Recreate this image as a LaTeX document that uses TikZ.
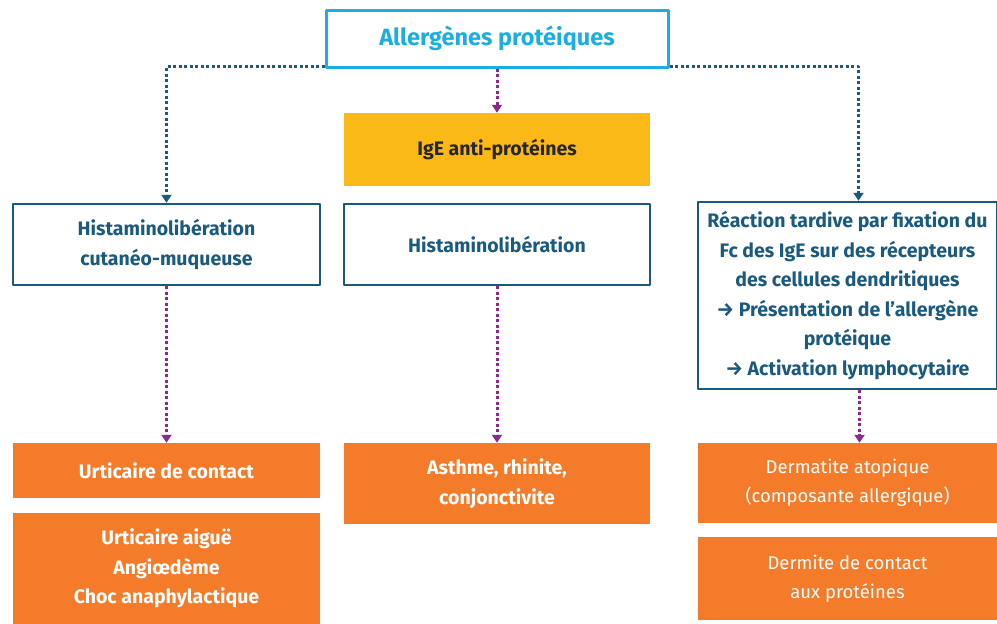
\documentclass[tikz,border=0pt]{standalone}
\usepackage{fontspec}
\setmainfont{Fira Sans}
\usetikzlibrary{arrows.meta}
\definecolor{cyanbox}{HTML}{1DAEE1}
\definecolor{navy}{HTML}{1B5A7F}
\definecolor{prune}{HTML}{8A2B8C}
\definecolor{ambre}{HTML}{FBB918}
\definecolor{orangebox}{HTML}{F47B2A}
\tikzset{
	boite/.style={inner sep=0pt, align=center, font=\fontsize{18.5}{29.5}\selectfont},
	gras/.style={font=\fontsize{19.5}{29.5}\selectfont\bfseries},
	topbox/.style={boite, draw=cyanbox, line width=3pt, text=cyanbox, font=\fontsize{23.5}{28}\selectfont\bfseries},
	igebox/.style={boite, gras, fill=ambre, text=black!85},
	hbox/.style={boite, gras, draw=navy, line width=2.5pt, text=navy},
	orbox/.style={boite, fill=orangebox, text=white},
	lienbleu/.style={draw=navy, line width=3pt, dash pattern=on 3pt off 2.5pt, -{Triangle[width=10pt,length=8pt]}},
	lienviolet/.style={lienbleu, draw=prune, fill=prune},
}
\begin{document}
\begin{tikzpicture}[x=1pt,y=-1pt,line join=round]
	\useasboundingbox (0,0) rectangle (997,624);
	\node[topbox, minimum width=342, minimum height=57] (allerg) at (497,38.5) {Allergènes protéiques};
	\node[igebox, minimum width=306, minimum height=73] (ige) at (497,149.5) {IgE anti-protéines};
	\node[hbox, minimum width=307, minimum height=81] (hgauche) at (166.5,244.5) {Histaminolibération\\cutanéo-muqueuse};
	\node[hbox, minimum width=306, minimum height=81] (hmilieu) at (497,244.5) {Histaminolibération};
	\node[hbox, minimum width=299, minimum height=187] (hdroite) at (847.5,295.5) {Réaction tardive par fixation du\\Fc des IgE sur des récepteurs\\des cellules dendritiques\\→ Présentation de l'allergène\\protéique\\→ Activation lymphocytaire};
	% effets cliniques
	\node[orbox, gras, minimum width=307, minimum height=55] (urtc) at (166.5,470.5) {Urticaire de contact};
	\node[orbox, gras, minimum width=307, minimum height=111] (urta) at (166.5,568.5) {Urticaire aiguë\\Angiœdème\\Choc anaphylactique};
	\node[orbox, gras, minimum width=306, minimum height=81] (asthme) at (497,483.5) {Asthme, rhinite,\\conjonctivite};
	\node[orbox, minimum width=299, minimum height=80] (dermato) at (847.5,483) {Dermatite atopique\\(composante allergique)};
	\node[orbox, minimum width=299, minimum height=83] (dermite) at (847.5,578.5) {Dermite de contact\\aux protéines};
	% liens
	\draw[lienbleu] ([yshift=2]allerg.south west) -| (hgauche.north);
	\draw[lienbleu] ([yshift=2]allerg.south east) -| ([xshift=11]hdroite.north);
	\foreach \a/\b in {allerg/ige, hgauche/urtc, hmilieu/asthme}
		\draw[lienviolet] (\a.south) -- (\b.north);
	\draw[lienviolet] ([xshift=12]hdroite.south) -- ([xshift=12]dermato.north);
\end{tikzpicture}
\end{document}
